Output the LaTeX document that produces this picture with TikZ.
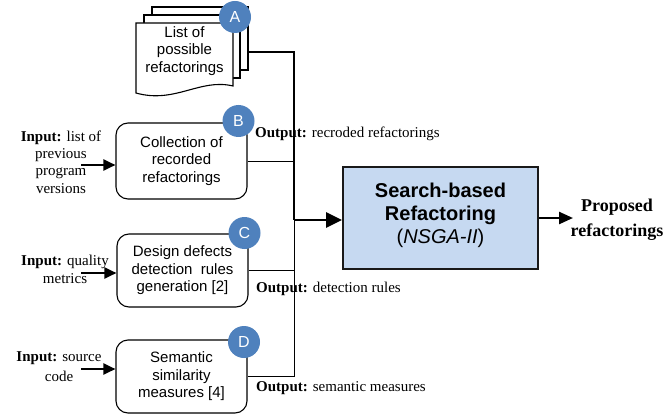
\documentclass[tikz,border=0pt]{standalone}
\usepackage{fontspec}
\setmainfont{Liberation Serif}
\newfontfamily\boxfont{Liberation Sans}
\usetikzlibrary{arrows.meta}

\definecolor{badgeblue}{HTML}{4F81BD}
\definecolor{searchfill}{HTML}{C6D9F1}

\tikzset{
  procbox/.style={draw=black, line width=1.1pt, rounded corners=12pt, fill=white,
    align=center, inner sep=0pt, font=\boxfont\fontsize{15}{17.5}\selectfont},
  searchbox/.style={draw=black!90, line width=1.8pt, fill=searchfill,
    minimum width=195pt, minimum height=102pt, inner sep=0pt},
  badge/.style={circle, fill=badgeblue, text=white, minimum size=32pt, inner sep=0pt,
    font=\boxfont\fontsize{16}{16}\selectfont},
  page/.style={draw=black, line width=1.1pt, fill=white},
  label/.style={align=center, inner sep=0pt, font=\fontsize{15}{17.3}\selectfont},
  outlabel/.style={anchor=base west, inner sep=0pt, font=\fontsize{15}{17}\selectfont},
  inarrow/.style={line width=2.4pt, -{Triangle[length=12pt,width=11pt]}},
  feed/.style={line width=2.4pt},
  thinline/.style={line width=0.9pt},
}

\begin{document}
\begin{tikzpicture}[x=1pt, y=-1pt]
\useasboundingbox (0,0) rectangle (668,414);

% stacked pages of the refactoring list
\draw[page] (152,7) rectangle (248,70);
\draw[page] (144,15) rectangle (240,78);
\draw[page] (136,23) -- (233,23) -- (233,86)
  .. controls (200,78) and (175,104) .. (136,93) -- cycle;
\node[align=center, inner sep=0pt, font=\boxfont\fontsize{15}{17.5}\selectfont]
  (a) at (184.5,51) {List of\\possible\\refactorings};
\coordinate (aout) at (248,52);

% processing steps
\node[procbox, minimum width=131pt, minimum height=76pt] (b) at (181.5,161)
  {Collection of\\recorded\\refactorings};
\node[procbox, minimum width=131pt, minimum height=73pt] (c) at (182.5,270.5)
  {Design defects\\detection\ \ rules\\generation [2]};
\node[procbox, minimum width=131pt, minimum height=73pt] (d) at (181.5,376.5)
  {Semantic\\similarity\\measures [4]};

% search engine
\node[searchbox] (s) at (440.5,218) {};
\node[align=center, inner sep=0pt, font=\boxfont\fontsize{20}{23}\selectfont]
  (stext) at (440.5,215)
  {\textbf{Search-based}\\\textbf{Refactoring}\\(\textit{NSGA-II})};

% badges
\node[badge] (ba) at (235,17) {A};
\node[badge] (bb) at (238.5,121) {B};
\node[badge] (bc) at (244.5,233) {C};
\node[badge] (bd) at (244,342) {D};

% inputs
\node[label] (ib) at (61,162) {\textbf{Input:} list of\\previous\\program\\versions};
\node[label] (ic) at (65,269.5) {\textbf{Input:} quality\\metrics};
\node[label] (id) at (59,367) {\textbf{Input:} source\\[3pt]code};
\coordinate (bin) at (81,165);
\coordinate (cin) at (81,273);
\coordinate (din) at (81,369);
\draw[inarrow] (bin) -- (bin -| b.west);
\draw[inarrow] (cin) -- (cin -| c.west);
\draw[inarrow] (din) -- (din -| d.west);

% outputs collected on the bus
\coordinate (j) at (294,220);
\draw[thinline] (b.east) -- (b.east -| j);
\draw[thinline] (c.east) -- (c.east -| j);
\draw[thinline] (d.east) -- (d.east -| j) -- (j);
\draw[feed, line join=miter] (aout) -- (aout -| j) -- (j);
\draw[line width=2.4pt, -{Triangle[length=16pt,width=15pt]}] (j) -- (j -| s.west);

\node[outlabel] (ob) at (255,138) {\textbf{Output:} recroded refactorings};
\node[outlabel] (oc) at (256,292) {\textbf{Output:} detection rules};
\node[outlabel] (od) at (256,391) {\textbf{Output:} semantic measures};

% result
\coordinate (pout) at (573,218);
\draw[line width=2.4pt, -{Triangle[length=14pt,width=12pt]}] (s.east) -- (pout);
\node[align=center, inner sep=0pt, font=\fontsize{18}{25}\selectfont\bfseries]
  (res) at (617,220) {Proposed\\refactorings};
\end{tikzpicture}
\end{document}
